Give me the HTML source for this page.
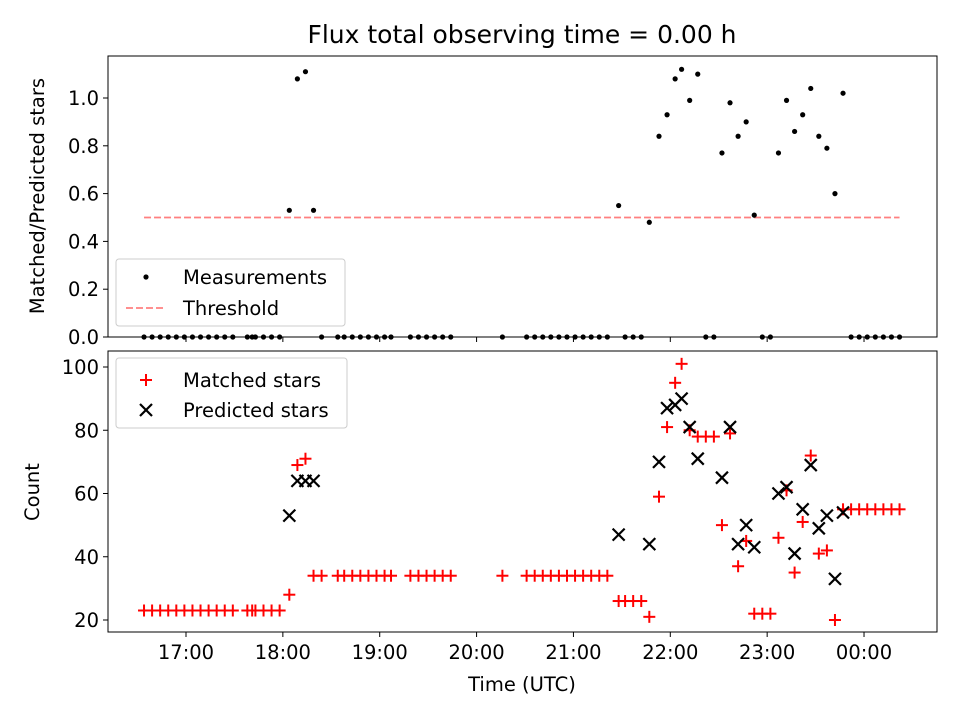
<!DOCTYPE html>
<html><head><meta charset="utf-8"><style>
body{margin:0;background:#fff;}
svg{display:block;font-family:"DejaVu Sans","Liberation Sans",sans-serif;}
</style></head><body>
<svg id="chart" width="960" height="720" viewBox="0 0 960 720" xmlns="http://www.w3.org/2000/svg">
<rect width="960" height="720" fill="#fff"/>
<text x="522" y="43" font-size="25" text-anchor="middle" fill="#000">Flux total observing time = 0.00 h</text>
<g id="topg"></g><g id="botg"></g>
</svg>
<script>
// minutes since 16:00
const times=[34,39,44,49,54,59,64,69,74,79,84,89,98,101,103,108,113,118,124,129,134,139,144,154,158,163,168,173,178,183,187,199,204,209,214,219,224,256,271,276,281,286,291,296,301,306,311,316,321,328,332,337,342,347,353,358,363,367,372,377,382,387,392,397,402,407,412,417,422,427,432,437,442,447,452,457,462,467,472,477,482,487,492,497,502];
const matched=[23,23,23,23,23,23,23,23,23,23,23,23,23,23,23,23,23,23,28,69,71,34,34,34,34,34,34,34,34,34,34,34,34,34,34,34,34,34,34,34,34,34,34,34,34,34,34,34,34,26,26,26,26,21,59,81,95,101,80,78,78,78,50,79,37,45,22,22,22,46,61,35,51,72,41,42,20,55,55,55,55,55,55,55,55];
const predicted=[null,null,null,null,null,null,null,null,null,null,null,null,null,null,null,null,null,null,53,64,64,64,null,null,null,null,null,null,null,null,null,null,null,null,null,null,null,null,null,null,null,null,null,null,null,null,null,null,null,47,null,null,null,44,70,87,88,90,81,71,null,null,65,81,44,50,43,null,null,60,62,41,55,69,49,53,33,54,null,null,null,null,null,null,null];
const ratio=[0,0,0,0,0,0,0,0,0,0,0,0,0,0,0,0,0,0,0.53,1.08,1.11,0.53,0,0,0,0,0,0,0,0,0,0,0,0,0,0,0,0,0,0,0,0,0,0,0,0,0,0,0,0.55,0,0,0,0.48,0.84,0.93,1.08,1.12,0.99,1.10,0,0,0.77,0.98,0.84,0.90,0.51,0,0,0.77,0.99,0.86,0.93,1.04,0.84,0.79,0.60,1.02,0,0,0,0,0,0,0];
const threshold=0.5;
const xTicks=["17:00","18:00","19:00","20:00","21:00","22:00","23:00","00:00"];
const xTickMin=[60,120,180,240,300,360,420,480];
const topTicks=[0,0.2,0.4,0.6,0.8,1.0];
const botTicks=[20,40,60,80,100];

const NS="http://www.w3.org/2000/svg";
const L=108,R=937,FS=19.5;
const X=m=>186+(m-60)*96.86/60;
const Yt=v=>337-v*239;
const Yb=v=>620-(v-20)*3.1625;
function el(p,tag,a,txt){const e=document.createElementNS(NS,tag);for(const k in a)e.setAttribute(k,a[k]);if(txt!=null)e.textContent=txt;p.appendChild(e);return e;}
const topG=document.getElementById('topg'),botG=document.getElementById('botg');

function frame(g,y0,y1,name){const r=el(g,'rect',{x:L,y:y0,width:R-L,height:y1-y0,fill:'none',stroke:'#000','stroke-width':1});

}
const tl=el(topG,'line',{x1:X(34),x2:X(502),y1:Yt(threshold),y2:Yt(threshold),stroke:'#ff8080','stroke-width':1.8,'stroke-dasharray':'7,3'});


times.forEach((t,i)=>{const c=el(topG,'circle',{cx:X(t),cy:Yt(ratio[i]),r:2.6,fill:'#000'});

});
frame(topG,56,337,'top-axes-frame');
topTicks.forEach(v=>{const y=Yt(v);el(topG,'line',{x1:L-5,x2:L,y1:y,y2:y,stroke:'#000'});
const t=el(topG,'text',{x:L-9,y:y+7,'font-size':FS,'text-anchor':'end'},v.toFixed(1));

});
xTickMin.forEach(m=>{el(topG,'line',{x1:X(m),x2:X(m),y1:337,y2:342,stroke:'#000'});});
const ytl=el(topG,'text',{x:44,y:196,'font-size':FS,'text-anchor':'middle',transform:'rotate(-90 44 196)'},'Matched/Predicted stars');


const lg=el(topG,'g',{});


el(lg,'rect',{x:116,y:259,width:229,height:67,rx:3,fill:'#fff','fill-opacity':0.8,stroke:'#ccc'});
el(lg,'circle',{cx:146,cy:277,r:2.6,fill:'#000'});
el(lg,'text',{x:183,y:284,'font-size':FS},'Measurements');
el(lg,'line',{x1:126,x2:166,y1:308,y2:308,stroke:'#ff8080','stroke-width':1.8,'stroke-dasharray':'7,3'});
el(lg,'text',{x:183,y:315,'font-size':FS},'Threshold');

function plus(p,x,y){const g=el(p,'g',{stroke:'#f00','stroke-width':2});el(g,'line',{x1:x-6,x2:x+6,y1:y,y2:y});el(g,'line',{x1:x,x2:x,y1:y-6,y2:y+6});return g;}
function cross(p,x,y){const g=el(p,'g',{stroke:'#000','stroke-width':2.2});el(g,'line',{x1:x-6,x2:x+6,y1:y-6,y2:y+6});el(g,'line',{x1:x-6,x2:x+6,y1:y+6,y2:y-6});return g;}
times.forEach((t,i)=>{const g=plus(botG,X(t),Yb(matched[i]));

});
times.forEach((t,i)=>{if(predicted[i]==null)return;const g=cross(botG,X(t),Yb(predicted[i]));

});
frame(botG,351,632,'bottom-axes-frame');
botTicks.forEach(v=>{const y=Yb(v);el(botG,'line',{x1:L-5,x2:L,y1:y,y2:y,stroke:'#000'});
const t=el(botG,'text',{x:L-9,y:y+7,'font-size':FS,'text-anchor':'end'},String(v));

});
xTickMin.forEach((m,i)=>{el(botG,'line',{x1:X(m),x2:X(m),y1:632,y2:637,stroke:'#000'});
const t=el(botG,'text',{x:X(m),y:659,'font-size':FS,'text-anchor':'middle'},xTicks[i]);

});
const xt=el(botG,'text',{x:522,y:691,'font-size':FS,'text-anchor':'middle'},'Time (UTC)');


const yb=el(botG,'text',{x:39,y:492,'font-size':FS,'text-anchor':'middle',transform:'rotate(-90 39 492)'},'Count');


const lg2=el(botG,'g',{});


el(lg2,'rect',{x:116,y:358,width:231,height:70,rx:3,fill:'#fff','fill-opacity':0.8,stroke:'#ccc'});
plus(lg2,146,380);cross(lg2,146,410);
el(lg2,'text',{x:183,y:387,'font-size':FS},'Matched stars');
el(lg2,'text',{x:183,y:417,'font-size':FS},'Predicted stars');
</script>
</body></html>
